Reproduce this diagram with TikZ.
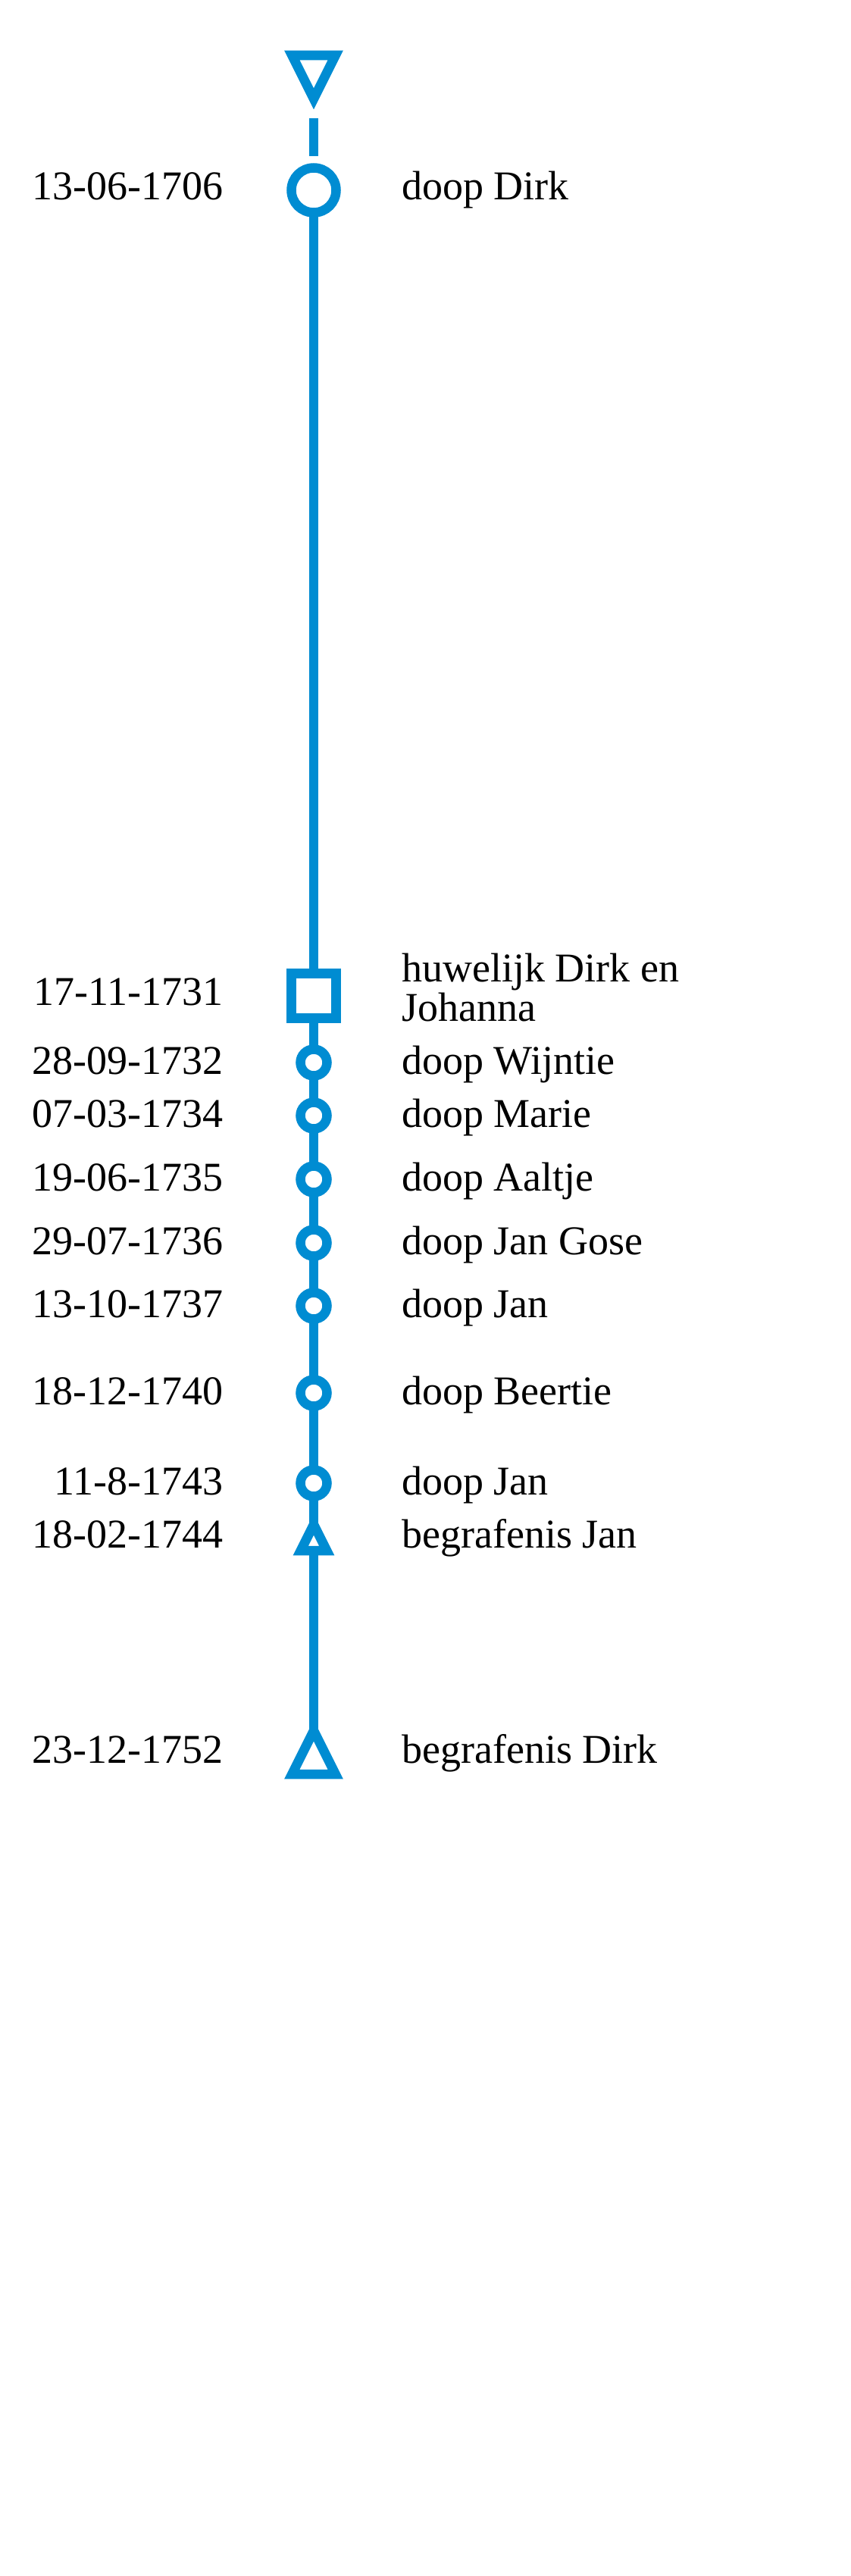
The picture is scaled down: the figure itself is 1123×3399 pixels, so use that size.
\documentclass[tikz,border=0pt]{standalone}
\usepackage{fontspec}
\setmainfont{Liberation Serif}
\usetikzlibrary{backgrounds}
\definecolor{tlblue}{RGB}{0,140,210}
\begin{document}
\begin{tikzpicture}[x=1pt,y=-1pt,
  ev/.style={draw=tlblue,fill=white,line width=12.5pt,inner sep=0pt,outer sep=0pt},
  bigring/.style={ev,circle,minimum size=59pt},
  ring/.style={ev,circle,minimum size=35pt},
  sqbox/.style={ev,rectangle,minimum size=59pt},
  tri/.style={draw=tlblue,fill=white,line width=12.5pt,line join=miter},
  link/.style={draw=tlblue,line width=12pt},
  datetxt/.style={anchor=base east,inner sep=0pt,font=\fontsize{54}{52}\selectfont},
  lbltxt/.style={anchor=base west,inner sep=0pt,font=\fontsize{54}{52}\selectfont}]
\useasboundingbox (0,0) rectangle (1123,3399);

% events
\coordinate (t0) at (414,73);
\coordinate (t0tip) at (414,130.4);
\node[bigring] (c0) at (414,251) {};
\node[sqbox] (sq) at (414,1314) {};
\node[ring] (c1) at (414,1402) {};
\node[ring] (c2) at (414,1472) {};
\node[ring] (c3) at (414,1556) {};
\node[ring] (c4) at (414,1640) {};
\node[ring] (c5) at (414,1723) {};
\node[ring] (c6) at (414,1838) {};
\node[ring] (c7) at (414,1957) {};
\coordinate (t1) at (414,2046);
\coordinate (t1tip) at (414,2011.6);
\coordinate (t2) at (414,2341);
\coordinate (t2tip) at (414,2283.6);

% connectors
\begin{scope}[on background layer]
\fill[white] (0,0) rectangle (1123,3399);
\draw[link,dash pattern=on 0pt off 25.6pt on 50pt off 200pt] (t0tip) -- (c0);
\draw[link] (c0) -- (sq);
\draw[link] (sq) -- (c1);
\draw[link] (c1) -- (c2);
\draw[link] (c2) -- (c3);
\draw[link] (c3) -- (c4);
\draw[link] (c4) -- (c5);
\draw[link] (c5) -- (c6);
\draw[link] (c6) -- (c7);
\draw[link] (c7) -- (t1tip);
\draw[link] (t1) -- (t2tip);
\end{scope}

% triangles
\draw[tri] (t0) ++(-28.7,0) -- ++(57.4,0) -- ++(-28.7,57.4) -- cycle;
\draw[tri] (t1) ++(-17.2,0) -- ++(34.4,0) -- ++(-17.2,-34.4) -- cycle;
\draw[tri] (t2) ++(-28.7,0) -- ++(57.4,0) -- ++(-28.7,-57.4) -- cycle;

% dates
\node[datetxt] (d0) at (295,263) {13-06-1706};
\node[datetxt] (d1) at (295,1326) {17-11-1731};
\node[datetxt] (d2) at (295,1417) {28-09-1732};
\node[datetxt] (d3) at (295,1487) {07-03-1734};
\node[datetxt] (d4) at (295,1571) {19-06-1735};
\node[datetxt] (d5) at (295,1655) {29-07-1736};
\node[datetxt] (d6) at (295,1738) {13-10-1737};
\node[datetxt] (d7) at (295,1853) {18-12-1740};
\node[datetxt] (d8) at (295,1972) {11-8-1743};
\node[datetxt] (d9) at (295,2042) {18-02-1744};
\node[datetxt] (d10) at (295,2326) {23-12-1752};

% labels
\node[lbltxt] (l0) at (530,263) {doop Dirk};
\node[lbltxt] (l1a) at (530,1295) {huwelijk Dirk en};
\node[lbltxt] (l1b) at (530,1347) {Johanna};
\node[lbltxt] (l2) at (530,1417) {doop Wijntie};
\node[lbltxt] (l3) at (530,1487) {doop Marie};
\node[lbltxt] (l4) at (530,1571) {doop Aaltje};
\node[lbltxt] (l5) at (530,1655) {doop Jan Gose};
\node[lbltxt] (l6) at (530,1738) {doop Jan};
\node[lbltxt] (l7) at (530,1853) {doop Beertie};
\node[lbltxt] (l8) at (530,1972) {doop Jan};
\node[lbltxt] (l9) at (530,2042) {begrafenis Jan};
\node[lbltxt] (l10) at (530,2326) {begrafenis Dirk};
\end{tikzpicture}
\end{document}
